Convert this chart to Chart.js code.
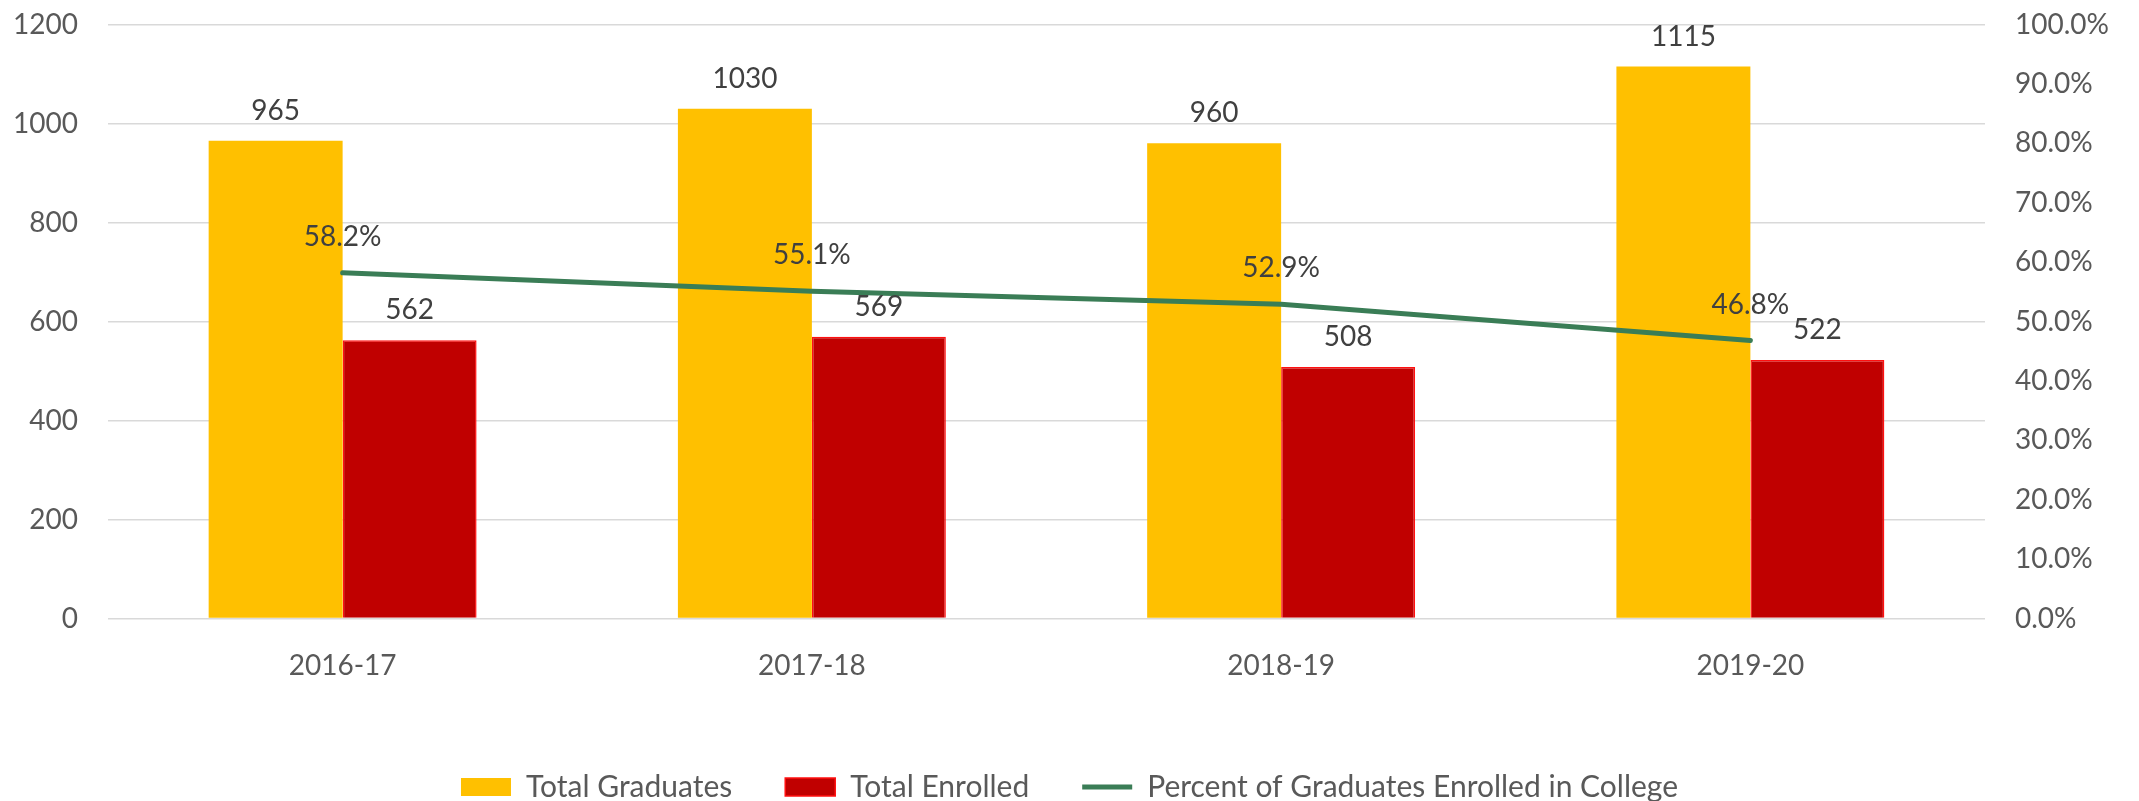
<!DOCTYPE html>
<html>
<head>
<meta charset="utf-8">
<title>Graduates enrolled in college</title>
<script src="https://cdn.jsdelivr.net/npm/chart.js@4.4.1/dist/chart.umd.min.js"></script>
<style>
    html, body { margin: 0; padding: 0; background: #fff; overflow: hidden; }
    #wrap { width: 2139px; height: 812px; }
</style>
</head>
<body>
<div id="wrap"><canvas id="gradChart" width="2139" height="812"></canvas></div>
<script>
// Data
const years = ['2016-17', '2017-18', '2018-19', '2019-20'];
const totalGraduates = [965, 1030, 960, 1115];
const totalEnrolled = [562, 569, 508, 522];
const percentEnrolled = [58.2, 55.1, 52.9, 46.8];

const FONT = 'Lato';
const FONT_SIZE = 28;
const LEGEND_SIZE = 30;

// Draws the value labels above bars and line points
const valueLabels = {
    id: 'valueLabels',
    afterDatasetsDraw(chart) {
        const ctx = chart.ctx;
        ctx.save();
        ctx.font = FONT_SIZE + 'px ' + FONT;
        ctx.fillStyle = '#404040';
        ctx.textAlign = 'center';
        ctx.textBaseline = 'middle';
        chart.data.datasets.forEach((ds, i) => {
            const meta = chart.getDatasetMeta(i);
            const isLine = ds.type === 'line';
            meta.data.forEach((el, j) => {
                const txt = isLine ? ds.data[j].toFixed(1) + '%' : String(ds.data[j]);
                ctx.fillText(txt, el.x, el.y - (isLine ? 36 : 30));
            });
        });
        ctx.restore();
    }
};

function noPad(s) {
    s.paddingTop = 0;
    s.paddingBottom = 0;
    s.paddingLeft = 0;
    s.paddingRight = 0;
}

function draw() {
    Chart.defaults.font.family = FONT;
    Chart.defaults.font.size = FONT_SIZE;
    Chart.defaults.color = '#595959';

    new Chart(document.getElementById('gradChart'), {
        type: 'bar',
        data: {
            labels: years,
            datasets: [
                {
                    label: 'Total Graduates',
                    data: totalGraduates,
                    backgroundColor: '#FFC000',
                    borderColor: '#FFC000',
                    borderWidth: 0,
                    pointStyle: 'rect',
                    yAxisID: 'y',
                    order: 1
                },
                {
                    label: 'Total Enrolled',
                    data: totalEnrolled,
                    backgroundColor: '#C00000',
                    borderColor: '#FF1010',
                    borderWidth: 1.5,
                    pointStyle: 'rect',
                    yAxisID: 'y',
                    order: 1
                },
                {
                    type: 'line',
                    label: 'Percent of Graduates Enrolled in College',
                    data: percentEnrolled,
                    borderColor: '#3A7D56',
                    backgroundColor: '#3A7D56',
                    borderWidth: 5,
                    borderCapStyle: 'round',
                    pointRadius: 0,
                    pointStyle: 'line',
                    tension: 0,
                    yAxisID: 'y1',
                    order: 0
                }
            ]
        },
        options: {
            responsive: false,
            animation: false,
            layout: { padding: { top: 24.5, left: 0, right: 0, bottom: 0 } },
            datasets: { bar: { barPercentage: 1, categoryPercentage: 0.571 } },
            plugins: {
                tooltip: { enabled: false },
                legend: {
                    position: 'bottom',
                    labels: {
                        usePointStyle: true,
                        pointStyleWidth: 50,
                        boxHeight: 18,
                        padding: 53,
                        color: '#595959',
                        font: { size: LEGEND_SIZE },
                        sort: (a, b) => a.datasetIndex - b.datasetIndex
                    }
                }
            },
            scales: {
                x: {
                    grid: { display: false },
                    border: { display: false },
                    ticks: { padding: 23, color: '#595959' },
                    afterFit: (s) => { s.height = 100.5; noPad(s); }
                },
                y: {
                    position: 'left',
                    min: 0,
                    max: 1200,
                    ticks: {
                        stepSize: 200,
                        padding: 30,
                        color: '#595959',
                        callback: (v) => String(v)
                    },
                    grid: { color: '#D9D9D9', lineWidth: 1.5, drawTicks: false },
                    border: { display: false },
                    afterFit: (s) => { s.width = 108; noPad(s); }
                },
                y1: {
                    position: 'right',
                    min: 0,
                    max: 100,
                    ticks: {
                        stepSize: 10,
                        padding: 30,
                        color: '#595959',
                        callback: (v) => v.toFixed(1) + '%'
                    },
                    grid: { display: false, drawTicks: false },
                    border: { display: false },
                    afterFit: (s) => { s.width = 154; noPad(s); }
                }
            }
        },
        plugins: [valueLabels]
    });
}

if (document.fonts && document.fonts.load) {
    document.fonts.load(FONT_SIZE + 'px ' + FONT).then(draw, draw);
} else {
    draw();
}
</script>
</body>
</html>
